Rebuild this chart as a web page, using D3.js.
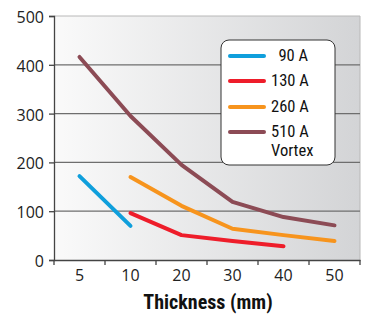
<!DOCTYPE html>
<html><head><meta charset="utf-8">
<script src="https://cdn.jsdelivr.net/npm/d3@7"></script>
<style>body{margin:0;background:#fff}svg{display:block}</style>
</head><body>
<svg id="c" width="366" height="318"></svg>
<script>
const categories = ["5","10","20","30","40","50"];
const yTicks = [0,100,200,300,400,500];
const seriesNames = ["\u200290 A","130 A","260 A","510 A"];
const seriesColors = ["#0f9fdc","#ee1d2a","#f7941d","#8c4b55"];
const s90 = [["5",172],["10",70]];
const s130 = [["10",96],["20",51],["30",39],["40",28]];
const s260 = [["10",170],["20",111],["30",64],["40",51],["50",39]];
const s510 = [["5",416],["10",295],["20",195],["30",119],["40",88],["50",71]];
const allSeries = [s90,s130,s260,s510];

const tickFont = "'Open Sans',sans-serif";
const narrow = "'Roboto Condensed','Liberation Sans Narrow','Open Sans',sans-serif";
const svg = d3.select("#c");
const L=54,R=360,T=16,B=260;
const x = d3.scaleBand().domain(categories).range([L,R]);
const y = d3.scaleLinear().domain([0,500]).range([B,T]);

const defs = svg.append("defs");
const g = defs.append("linearGradient").attr("id","bg").attr("x1","0").attr("x2","1").attr("y1","0").attr("y2","0");
g.append("stop").attr("offset","0").attr("stop-color","#fafafa");
g.append("stop").attr("offset","1").attr("stop-color","#d3d4d6");
svg.append("rect").attr("x",L).attr("y",T).attr("width",R-L).attr("height",B-T).attr("fill","url(#bg)");
svg.append("line").attr("x1",L).attr("x2",R).attr("y1",T).attr("y2",T).attr("stroke","#b8b8b8").attr("stroke-width",1);
svg.append("line").attr("x1",R).attr("x2",R).attr("y1",T).attr("y2",B).attr("stroke","#b8b8b8").attr("stroke-width",1);
svg.append("g").selectAll("line").data(yTicks.filter(v=>v>0&&v<500)).join("line")
  .attr("x1",L).attr("x2",R).attr("y1",d=>y(d)).attr("y2",d=>y(d))
  .attr("stroke","#6e6e6e").attr("stroke-width",1.3);

const ya = svg.append("g").attr("transform",`translate(${L},0)`)
  .call(d3.axisLeft(y).tickValues(yTicks).tickSize(5).tickPadding(5));
ya.select(".domain").attr("stroke","#444").attr("stroke-width",1.3);
ya.selectAll(".tick line").attr("stroke","#444").attr("stroke-width",1.3);
ya.selectAll("text").attr("font-family",tickFont).attr("font-size",16).attr("fill","#222").attr("dy","0.4em");

const xa = svg.append("g").attr("transform",`translate(0,${B})`)
  .call(d3.axisBottom(x).tickSize(0).tickPadding(10));
xa.select(".domain").attr("stroke","#444").attr("stroke-width",1.3);
xa.selectAll("text").attr("font-family",tickFont).attr("font-size",16).attr("fill","#222");
xa.selectAll(".bt").data(categories.concat(["end"])).join("line")
  .attr("x1",(d,i)=>L+i*x.bandwidth()).attr("x2",(d,i)=>L+i*x.bandwidth())
  .attr("y1",0).attr("y2",5).attr("stroke","#444").attr("stroke-width",1.3);

svg.append("text").attr("x",208).attr("y",309).attr("text-anchor","middle")
  .attr("font-family",narrow).attr("font-weight","bold").attr("font-size",20).attr("fill","#111")
  .text("Thickness (mm)");

const line = d3.line().x(d=>x(d[0])+x.bandwidth()/2).y(d=>y(d[1]));
svg.append("g").selectAll("path").data(allSeries).join("path")
  .attr("d",line).attr("fill","none").attr("stroke",(d,i)=>seriesColors[i])
  .attr("stroke-width",4).attr("stroke-linecap","round").attr("stroke-linejoin","round");

const lg = svg.append("g");
lg.append("rect").attr("x",221).attr("y",40).attr("width",114).attr("height",125).attr("rx",8)
  .attr("fill","#fff").attr("stroke","#333").attr("stroke-width",1);
const rows=[56,81,107,132];
seriesNames.forEach((n,i)=>{
  lg.append("line").attr("x1",230).attr("x2",264).attr("y1",rows[i]).attr("y2",rows[i])
    .attr("stroke",seriesColors[i]).attr("stroke-width",4).attr("stroke-linecap","round");
  lg.append("text").attr("x",271).attr("y",rows[i]+5).attr("font-family",narrow).attr("font-size",16.5).attr("fill","#111").text(n);
});
lg.append("text").attr("x",271).attr("y",156).attr("font-family",narrow).attr("font-size",16.5).attr("fill","#111").text("Vortex");
</script>
</body></html>
